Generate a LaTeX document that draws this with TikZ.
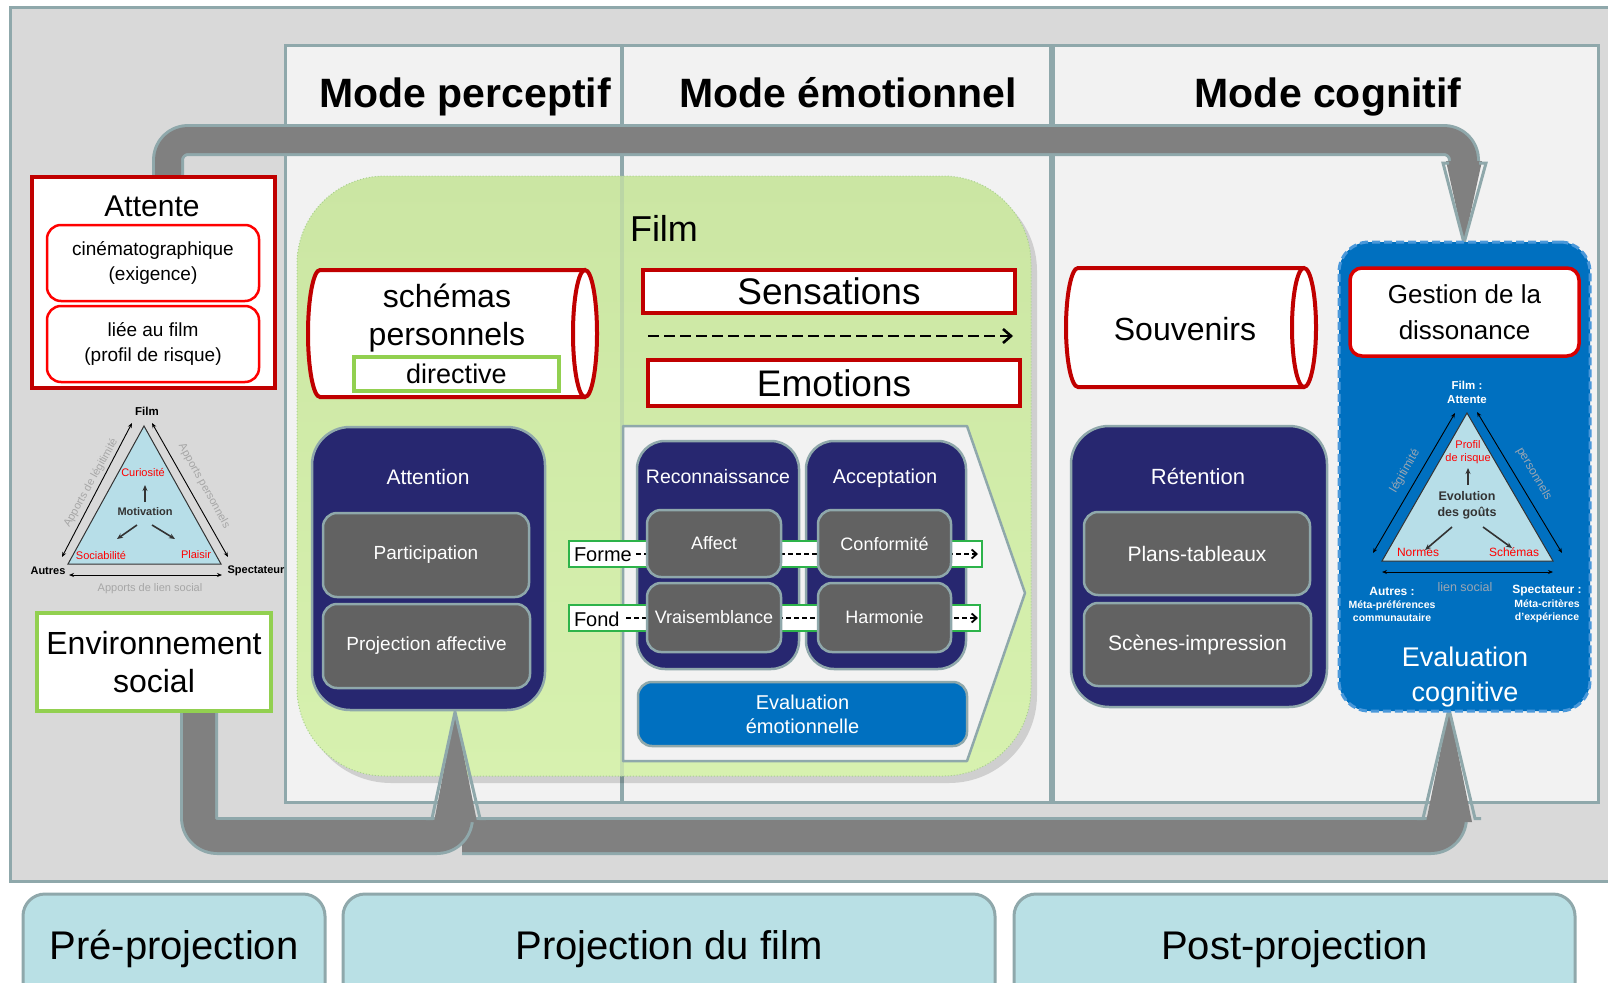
\documentclass[tikz,border=0pt]{standalone}
\usepackage{fontspec}
\setmainfont{Liberation Sans}
\usetikzlibrary{arrows.meta}
\definecolor{edge}{HTML}{8FA8AB}
\definecolor{panelbg}{HTML}{F2F2F2}
\definecolor{outerbg}{HTML}{D9D9D9}
\definecolor{bandgray}{HTML}{808080}
\definecolor{navy}{HTML}{272770}
\definecolor{boxgray}{HTML}{626262}
\definecolor{blueeval}{HTML}{0070C0}
\definecolor{bluedash}{HTML}{4A98DA}
\definecolor{filmgreen}{HTML}{CBE6A3}
\definecolor{filmgreenlow}{HTML}{D7F1AF}
\definecolor{filmedge}{HTML}{A9D18E}
\definecolor{darkred}{HTML}{C00000}
\definecolor{brightred}{HTML}{FF0000}
\definecolor{lgreen}{HTML}{92D050}
\definecolor{stripgreen}{HTML}{2DB34A}
\definecolor{cyanfill}{HTML}{B9E0E5}
\definecolor{trifill}{HTML}{B7DEE8}
\definecolor{faint}{HTML}{A6A6A6}
\definecolor{faintb}{HTML}{9AA6B3}
\definecolor{darktxt}{HTML}{333333}
\begin{document}
\begin{tikzpicture}[x=1pt,y=-1pt,
  fs/.style 2 args={font=\fontsize{#1}{#2}\selectfont},
  fsb/.style 2 args={font=\fontsize{#1}{#2}\selectfont\bfseries},
  plain/.style={inner sep=0pt, outer sep=0pt},
  band/.style={draw=edge, line width=3pt, double=bandgray, line join=round},
  headtip/.style={draw=edge, line width=3pt, line join=miter},
  navybox/.style={draw=edge, line width=2.5pt, fill=navy, inner sep=0pt},
  graybox/.style={draw=edge, line width=2.5pt, fill=boxgray, rounded corners=14pt, text=white, inner sep=0pt},
  whitelbl/.style={text=white, inner sep=0pt},
  redframe/.style={draw=darkred, line width=4pt, fill=white, inner sep=0pt},
  redsub/.style={draw=brightred, line width=2.5pt, fill=white, rounded corners=14pt, align=center, inner sep=0pt},
  greenframe/.style={draw=lgreen, line width=4pt, fill=white, inner sep=0pt, align=center},
  strip/.style={draw=stripgreen, line width=2.5pt, fill=white, inner sep=0pt},
  phasebox/.style={draw=edge, line width=3pt, fill=cyanfill, rounded corners=22pt},
  tri/.style={draw=darktxt, line width=1pt, fill=trifill},
  sidearrow/.style={draw=black, line width=0.9pt, {Stealth[length=5pt,width=4pt]}-{Stealth[length=5pt,width=4pt]}},
  motarrow/.style={draw=darktxt, line width=1.6pt, -{Stealth[length=6pt,width=5pt]}},
  dasharrow/.style={draw=black, line width=1.8pt, dash pattern=on 5pt off 3pt, -{Straight Barb[length=5pt,width=9pt,line width=1.8pt]}},
  cylline/.style={draw=darkred, line width=4pt, fill=white},
]
\useasboundingbox (0,0) rectangle (1608,982);
\clip (0,0) rectangle (1608,982);

% frames
\path[fill=outerbg, draw=edge, line width=3pt] (10,8) rectangle (1630,881);
\path[fill=panelbg, draw=edge, line width=3pt] (285,46) rectangle (1598,802);
\draw[edge, line width=4pt] (622,46) -- (622,802);
\draw[edge, line width=6pt] (1052,46) -- (1052,802);
\node[fsb={41}{48}, anchor=base, plain] (hperc) at (465,107) {Mode perceptif};
\node[fsb={41}{48}, anchor=base, plain] (hemo) at (848,107) {Mode émotionnel};
\node[fsb={41}{48}, anchor=base, plain] (hcog) at (1328,107) {Mode cognitif};

% film area
\fill[black, opacity=0.14, rounded corners=88pt] (303,183) rectangle (1037,783);
\path[top color=filmgreen, bottom color=filmgreenlow, rounded corners=88pt] (297,176) rectangle (1031,776);
\draw[filmedge, line width=1pt, dotted, rounded corners=88pt] (297,176) rectangle (1031,776);
\draw[edge, opacity=0.25, line width=4pt] (622,176) -- (622,776);
\node[fs={36}{42}, anchor=base west, plain] (film) at (630,241) {Film};

% top band
\coordinate (tb0) at (168,182);
\coordinate (tb1) at (168,140);
\coordinate (tb2) at (1464,140);
\coordinate (tb3) at (1464,164);
\coordinate (tbtip) at (1464,243);
\draw[band, double distance=26pt, rounded corners=20pt] (tb0) -- (tb1) -- (tb2) -- (tb3);
\fill[bandgray] (1446,161) -- (1482,161) -- (tbtip) -- cycle;
\draw[headtip] (1449,163) -- (1443,163) -- (tbtip) -- (1486,163) -- (1479,163);

% bottom bands
\coordinate (bb0) at (199,706);
\coordinate (bb1) at (199,836);
\coordinate (bb2) at (455,836);
\coordinate (bb3) at (455,819);
\coordinate (bbtip) at (455,712);
\coordinate (bc0) at (462,836);
\coordinate (bc1) at (1449,836);
\coordinate (bc2) at (1449,819);
\coordinate (bctip) at (1449,709);
\draw[band, double distance=32pt, rounded corners=18pt] (bc0) -- (bc1) -- (bc2);
\draw[band, double distance=32pt, rounded corners=18pt] (bb0) -- (bb1) -- (bb2) -- (bb3);
\fill[bandgray] (434,822) -- (477,822) -- (bbtip) -- cycle;
\draw[headtip] (426,818.5) -- (432,818.5) -- (bbtip) -- (480,818.5) -- (486,818.5);
\fill[bandgray] (1426,822) -- (1472,822) -- (bctip) -- cycle;
\draw[headtip] (1417,818.5) -- (1423,818.5) -- (bctip) -- (1475,818.5) -- (1481,818.5);

% left column: Attente
\node[redframe, minimum width=243, minimum height=211] (attente) at (153.5,282.5) {};
\node[fs={30}{34}, anchor=base, plain] (attentelbl) at (152,216) {Attente};
\node[redsub, fs={19}{25}, minimum width=212, minimum height=76] (cine) at (153,263) {cinématographique\\(exigence)};
\node[redsub, fs={19}{25}, minimum width=212, minimum height=76] (liee) at (153,344) {liée au film\\(profil de risque)};

% left triangle
\coordinate (lA) at (144,426); \coordinate (lB) at (68,564); \coordinate (lC) at (221,564);
\draw[tri] (lA) -- (lB) -- (lC) -- cycle;
\coordinate (la1) at (132,423); \coordinate (la2) at (62,557);
\coordinate (lb1) at (152,423); \coordinate (lb2) at (228,557);
\coordinate (lc1) at (69,575); \coordinate (lc2) at (222,575);
\draw[sidearrow] (la1) -- (la2);
\draw[sidearrow] (lb1) -- (lb2);
\draw[sidearrow] (lc1) -- (lc2);
\node[fsb={11.5}{13}, plain] (lfilm) at (147,411) {Film};
\node[fsb={11}{13}, plain] (lautres) at (48,571) {Autres};
\node[fsb={11}{13}, plain] (lspect) at (256,571) {Spectateur};
\node[fs={11}{13}, text=faint, rotate=61, plain] (lleg) at (91,483) {Apports de légitimité};
\node[fs={11}{13}, text=faint, rotate=-61, plain] (lpers) at (204,486) {Apports personnels};
\node[fs={11}{13}, text=faint, plain] (llien) at (150,589) {Apports de lien social};
\node[fs={11}{13}, text=brightred, plain] (lcur) at (143,472) {Curiosité};
\node[fsb={11}{13}, text=darktxt, plain] (lmot) at (145,512) {Motivation};
\node[fs={11}{13}, text=brightred, plain] (lsoc) at (101,555) {Sociabilité};
\node[fs={11}{13}, text=brightred, plain] (lpla) at (196,555) {Plaisir};
\coordinate (lu1) at (145,502); \coordinate (lu2) at (145,485);
\draw[motarrow] (lu1) -- (lu2);
\draw[motarrow] (137,525) -- (117,539);
\draw[motarrow] (152,525) -- (175,539);

% environnement social
\node[greenframe, fs={32}{38}, minimum width=234, minimum height=98] (env) at (154,662) {Environnement\\social};

% perceptif column
\fill[white] (585,270) -- (320,270) .. controls (313.4,270) and (308,298.4) .. (308,333.5) .. controls (308,368.6) and (313.4,397) .. (320,397) -- (585,397) -- cycle;
\draw[darkred, line width=4pt] (585,270) -- (320,270) .. controls (313.4,270) and (308,298.4) .. (308,333.5) .. controls (308,368.6) and (313.4,397) .. (320,397) -- (585,397);
\draw[cylline] (585,333.5) ellipse [x radius=12pt, y radius=63.5pt];
\node[fs={32}{38}, align=center, plain] (schemas) at (447,318) {schémas\\personnels};
\node[draw=lgreen, line width=4pt, fill=white, fs={27}{30}, minimum width=205, minimum height=34, plain] (directive) at (456.5,374) {directive};

\node[navybox, rounded corners=38pt, minimum width=233, minimum height=283] (attention) at (428.5,568.5) {};
\node[whitelbl, fs={21}{24}] (attentionlbl) at (428,477) {Attention};
\node[graybox, fs={19}{22}, minimum width=206, minimum height=84] (particip) at (426,555) {Participation};
\node[graybox, fs={19}{22}, minimum width=207, minimum height=84] (projaff) at (426.5,646) {Projection affective};

% emotional column
\node[redframe, fs={37}{42}, minimum width=372, minimum height=43] (sensations) at (829,291.5) {Sensations};
\node[redframe, fs={37}{42}, minimum width=372, minimum height=46] (emotions) at (834,383) {Emotions};
\coordinate (sea) at (648,336); \coordinate (seb) at (1013,336);
\draw[black, line width=2.8pt, dash pattern=on 11pt off 5pt, -{Straight Barb[length=8pt,width=14pt,line width=2.6pt]}] (sea) -- (seb);

\path[fill=panelbg, draw=edge, line width=2.5pt, line join=round] (623,426) -- (967,426) -- (1025,593) -- (967,761) -- (623,761) -- cycle;

\node[navybox, rounded corners=28pt, minimum width=162, minimum height=228] (recon) at (718,555) {};
\node[navybox, rounded corners=28pt, minimum width=160, minimum height=228] (accept) at (886,555) {};
\node[whitelbl, fs={19.5}{22}] (reconlbl) at (718,477) {Reconnaissance};
\node[whitelbl, fs={20}{22}] (acceptlbl) at (885,478) {Acceptation};

\node[strip, minimum width=413, minimum height=26] (formestrip) at (775.5,554) {};
\node[strip, minimum width=411, minimum height=26] (fondstrip) at (774.5,618) {};
\node[fs={20}{22}, anchor=west, plain] (forme) at (574,555) {Forme};
\node[fs={20}{22}, anchor=west, plain] (fond) at (574,619) {Fond};
\coordinate (fa) at (636,554); \coordinate (fb) at (978,554);
\coordinate (fc) at (626,618); \coordinate (fd) at (978,618);
\draw[dasharrow] (fa) -- (fb);
\draw[dasharrow] (fc) -- (fd);

\node[graybox, fs={18}{21}, minimum width=134, minimum height=67] (affect) at (714,543.5) {Affect};
\node[graybox, fs={18}{21}, minimum width=134, minimum height=69] (vrais) at (714,617.5) {Vraisemblance};
\node[graybox, fs={18}{21}, minimum width=133, minimum height=67] (conform) at (884.5,543.5) {Conformité};
\node[graybox, fs={18}{21}, minimum width=133, minimum height=69] (harmonie) at (884.5,617.5) {Harmonie};
\node[draw=edge, line width=2.5pt, fill=blueeval, rounded corners=14pt, text=white, fs={20}{24}, align=center, minimum width=329, minimum height=64, plain] (evalemo) at (802.5,714) {Evaluation\\émotionnelle};

% cognitive column
\fill[white] (1304,268) -- (1078,268) .. controls (1071.4,268) and (1066,294.6) .. (1066,327.5) .. controls (1066,360.4) and (1071.4,387) .. (1078,387) -- (1304,387) -- cycle;
\draw[darkred, line width=4pt] (1304,268) -- (1078,268) .. controls (1071.4,268) and (1066,294.6) .. (1066,327.5) .. controls (1066,360.4) and (1071.4,387) .. (1078,387) -- (1304,387);
\draw[cylline] (1304,327.5) ellipse [x radius=12pt, y radius=59.5pt];
\node[fs={32}{38}, plain] (souvenirs) at (1185,329) {Souvenirs};

\node[navybox, rounded corners=38pt, minimum width=256, minimum height=281] (retention) at (1199,566.5) {};
\node[whitelbl, fs={22}{25}] (retentionlbl) at (1198,477) {Rétention};
\node[graybox, fs={21}{24}, minimum width=226, minimum height=83] (plans) at (1197,553.5) {Plans-tableaux};
\node[graybox, fs={21}{24}, minimum width=227, minimum height=83] (scenes) at (1197.5,644.5) {Scènes-impression};

% evaluation cognitive
\node[fill=blueeval, draw=bluedash, line width=3pt, dash pattern=on 8pt off 4pt, rounded corners=30pt, minimum width=251, minimum height=469, plain] (evalcog) at (1464.5,476.5) {};
\node[draw=brightred!85!black, line width=3.5pt, fill=white, rounded corners=12pt, fs={26}{36}, align=center, minimum width=229, minimum height=88, plain] (gestion) at (1464.5,312) {Gestion de la\\dissonance};

\coordinate (rA) at (1467,413); \coordinate (rB) at (1382,561); \coordinate (rC) at (1553,561);
\draw[tri] (rA) -- (rB) -- (rC) -- cycle;
\coordinate (ra1) at (1455,413); \coordinate (ra2) at (1373,553);
\coordinate (rb1) at (1477,412); \coordinate (rb2) at (1562,553);
\coordinate (rc1) at (1382,572); \coordinate (rc2) at (1553,572);
\draw[sidearrow] (ra1) -- (ra2);
\draw[sidearrow] (rb1) -- (rb2);
\draw[sidearrow] (rc1) -- (rc2);
\node[fsb={11.5}{14}, text=white, align=center, plain] (rfilm) at (1467,392) {Film :\\Attente};
\node[fs={12}{14}, text=faintb, rotate=60, plain] (rleg) at (1405,471) {légitimité};
\node[fs={12}{14}, text=faintb, rotate=-60, plain] (rpers) at (1534,474) {personnels};
\node[fs={12.5}{14}, text=faintb, plain] (rlien) at (1465,587) {lien social};
\node[fs={11}{13}, text=brightred, align=center, plain] (rprofil) at (1468,452.5) {Profil\\de risque};
\node[fsb={12.5}{16}, text=darktxt, align=center, plain] (revol) at (1467,505) {Evolution\\des goûts};
\node[fs={12}{14}, text=brightred, plain] (rnormes) at (1418,552) {Normes};
\node[fs={12}{14}, text=brightred, plain] (rschemas) at (1514,552) {Schémas};
\coordinate (ru1) at (1468,485); \coordinate (ru2) at (1468,468);
\draw[motarrow] (ru1) -- (ru2);
\draw[motarrow] (1452,527) -- (1425,550);
\draw[motarrow] (1483,527) -- (1512,548);
\node[fsb={12}{14}, text=white, plain] (rautres) at (1392,591) {Autres :};
\node[fsb={10.5}{13}, text=white, align=center, plain] (rmeta1) at (1392,611) {Méta-préférences\\communautaire};
\node[fsb={12}{14}, text=white, plain] (rspect) at (1547,591) {Spectateur :};
\node[fsb={10.5}{13}, text=white, align=center, plain] (rmeta2) at (1547,611) {Méta-critères\\d'expérience};
\node[fs={27}{35}, text=white, align=center, plain] (evalcoglbl) at (1465,677) {Evaluation\\cognitive};

% phase bars
\path[phasebox] (23,894) rectangle (325,1012);
\path[phasebox] (343,894) rectangle (995,1012);
\path[phasebox] (1014,894) rectangle (1575,1012);
\node[fs={40}{46}, anchor=base, plain] (pre) at (174,959) {Pré-projection};
\node[fs={40}{46}, anchor=base, plain] (proj) at (669,959) {Projection du film};
\node[fs={40}{46}, anchor=base, plain] (post) at (1294.5,959) {Post-projection};
\end{tikzpicture}
\end{document}
